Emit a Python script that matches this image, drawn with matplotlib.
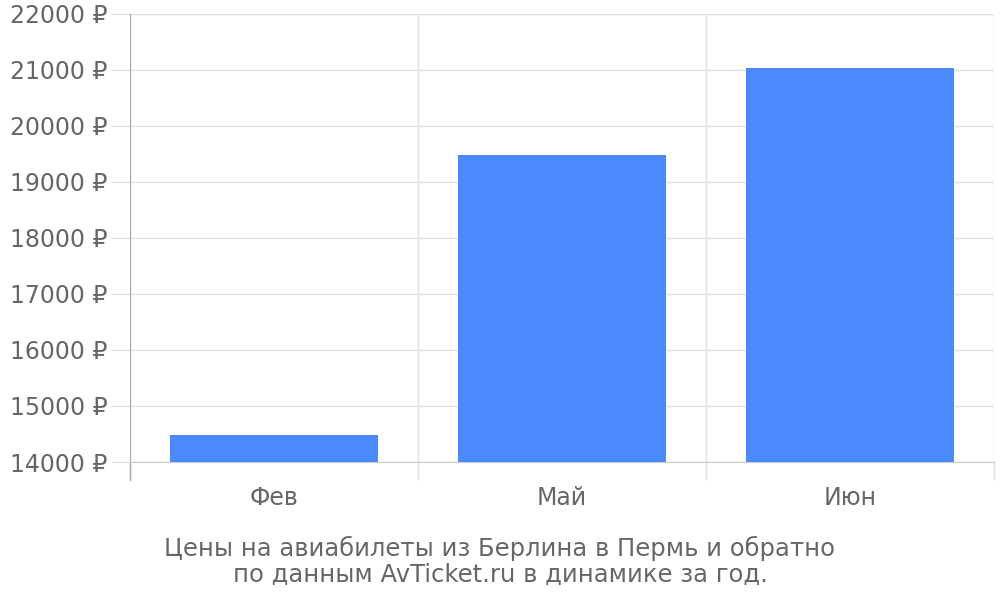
import numpy as np
import matplotlib.pyplot as plt

months = ["Фев", "Май", "Июн"]
prices = [14490, 19480, 21030]
yticks = [14000, 15000, 16000, 17000, 18000, 19000, 20000, 21000, 22000]
title = "Цены на авиабилеты из Берлина в Пермь и обратно\nпо данным AvTicket.ru в динамике за год."

text_color = "#666666"
grid_color = "#e0e0e0"

fig = plt.figure(figsize=(10, 6), dpi=100)
ax = fig.add_axes([0.13, 0.23, 0.864, 0.7467])

x = np.arange(len(months))
ax.bar(x, prices, width=0.72, color="#4c89fc", zorder=3, bottom=0)

ax.set_xlim(-0.5, len(months) - 0.5)
ax.set_ylim(yticks[0], yticks[-1])

# category labels in the middle, boundary lines as minor ticks
ax.set_xticks(x)
ax.set_xticklabels(months)
ax.set_xticks(np.arange(len(months) + 1) - 0.5, minor=True)
ax.tick_params(axis="x", which="major", length=0, pad=17, labelsize=17, labelcolor=text_color)
ax.tick_params(axis="x", which="minor", length=13, width=1, color=grid_color)
ax.grid(axis="x", which="minor", color=grid_color, lw=1, zorder=0)

ax.set_yticks(yticks)
ax.set_yticklabels([f"{v} ₽" for v in yticks])
ax.tick_params(axis="y", length=14, width=1, color=grid_color, pad=2, labelsize=17, labelcolor=text_color)
ax.grid(axis="y", color=grid_color, lw=1, zorder=0)

for side in ["top", "right"]:
    ax.spines[side].set_visible(False)
ax.spines["bottom"].set_color("#cccccc")
ax.spines["left"].set_color("#aaaaaa")
ax.spines["left"].set_bounds(yticks[0], yticks[-1])

# left axis line runs down past the plot like the tick marks
ax.plot([-0.5, -0.5], [0, -0.04], transform=ax.get_xaxis_transform(), color="#aaaaaa",
        lw=1, clip_on=False)

fig.text(0.5, 0.064, title, ha="center", va="center", fontsize=17.5, color=text_color, linespacing=1.08)

fig.savefig("out.png")
